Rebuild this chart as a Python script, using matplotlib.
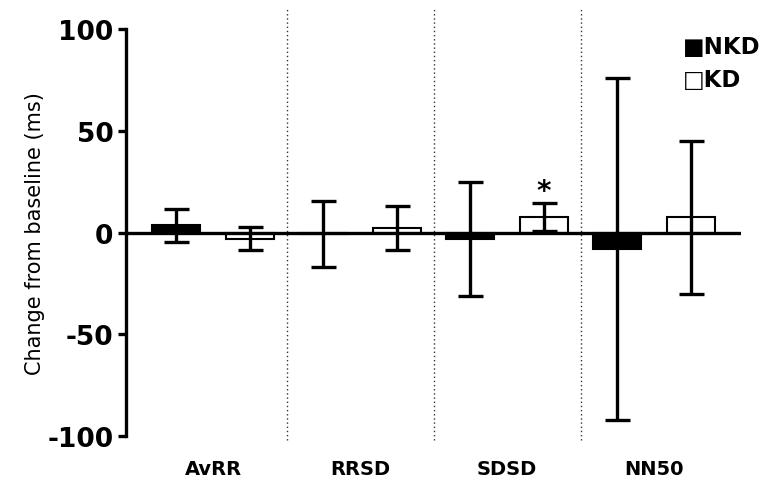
import numpy as np
import matplotlib.pyplot as plt

plt.rcParams['font.family'] = ['DejaVu Sans']

# HRV change from baseline, mean and SD per group
measures = ["AvRR", "RRSD", "SDSD", "NN50"]
nkd_mean = [3.5, -0.8, -3.4, -8.0]
nkd_sd = [8.0, 16.3, 28.0, 84.0]
kd_mean = [-3.0, 2.0, 7.5, 7.5]
kd_sd = [5.5, 10.8, 7.0, 37.5]
sig_kd = [False, False, True, False]

fig = plt.figure(figsize=(7.65, 4.81), dpi=100)
ax = fig.add_axes([0.1647, 0.0915, 0.8039, 0.8461])

x = np.arange(len(measures))
off = 0.25
w = 0.327

ax.bar(x - off, nkd_mean, w, color="black", edgecolor="black", lw=1.5, zorder=2)
ax.bar(x + off, kd_mean, w, color="white", edgecolor="black", lw=1.5, zorder=2)
ek = dict(fmt="none", ecolor="black", elinewidth=2.4, capsize=9, capthick=2.4, zorder=3)
ax.errorbar(x - off, nkd_mean, yerr=nkd_sd, **ek)
ax.errorbar(x + off, kd_mean, yerr=kd_sd, **ek)

for i, s in enumerate(sig_kd):
    if s:
        ax.text(x[i] + off, kd_mean[i] + kd_sd[i] - 1, "*", ha="center", va="bottom",
                fontsize=20, fontweight="bold")

# zero line acting as the x axis
ax.axhline(0, color="black", lw=2.4, zorder=4)

# dotted separators between measures
for sep in x[:-1] + 0.5:
    ax.plot([sep, sep], [-102, 110], ls=(0, (1, 2)), color="#333333", lw=1.0,
            clip_on=False, zorder=1)

ax.set_xlim(-0.592, 3.59)
ax.set_ylim(-100, 100)
ax.set_yticks([-100, -50, 0, 50, 100])
ax.set_yticklabels(["-100", "-50", "0", "50", "100"], fontweight="bold", fontsize=19)
ax.tick_params(axis="y", width=2.4, length=6, pad=3)
ax.set_xticks([])
for i, m in enumerate(measures):
    ax.text(x[i], -116, m, ha="center", va="center", fontsize=14, fontweight="bold")

for sp in ["top", "right", "bottom"]:
    ax.spines[sp].set_visible(False)
ax.spines["left"].set_linewidth(2.4)

ax.set_ylabel("Change from baseline (ms)", fontsize=15, labelpad=2)

# legend drawn as filled / open square glyphs
fig.text(0.893, 0.902, "\u25a0NKD", fontsize=16.5, fontweight="bold", va="center")
fig.text(0.893, 0.832, "\u25a1KD", fontsize=16.5, fontweight="bold", va="center")

plt.savefig("out.png", dpi=100)
